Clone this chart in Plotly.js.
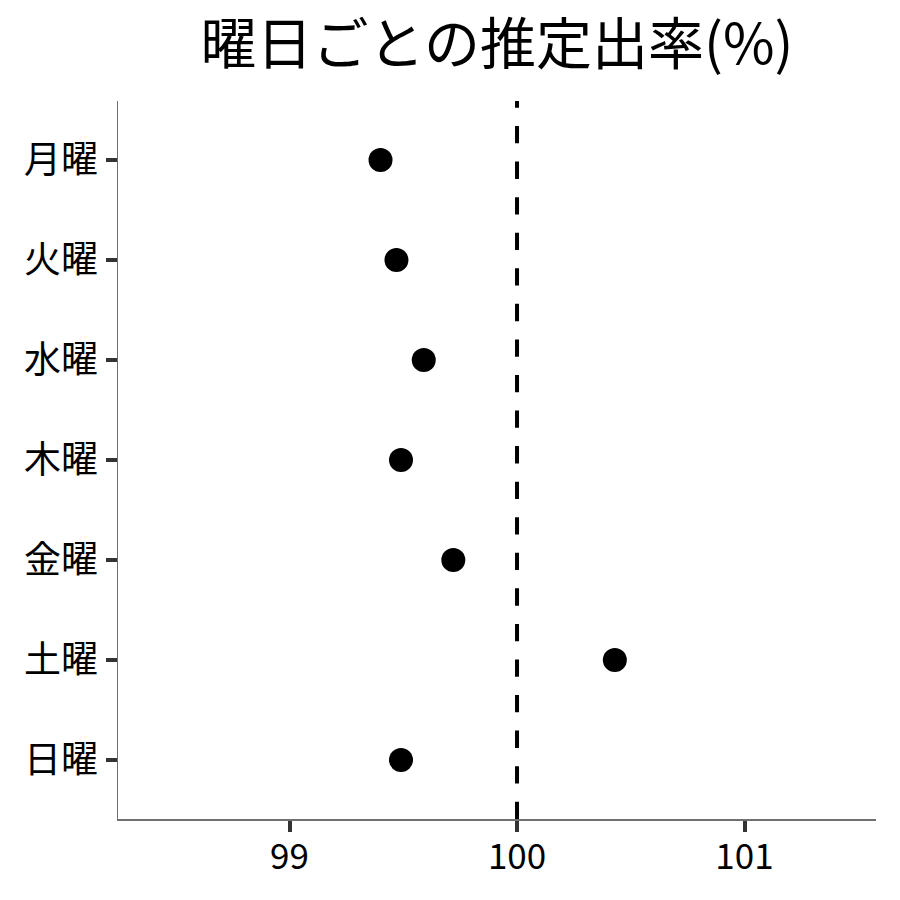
<!DOCTYPE html>
<html>
<head>
<meta charset="utf-8">
<script src="https://cdn.plot.ly/plotly-3.0.1.min.js"></script>
<style>html,body{margin:0;padding:0;background:#fff;}#chart{width:900px;height:900px;}</style>
</head>
<body>
<div id="chart"></div>
<script>
const days = ["月曜", "火曜", "水曜", "木曜", "金曜", "土曜", "日曜"];
const estimates = [99.40, 99.47, 99.59, 99.49, 99.72, 100.43, 99.49];
const xTickValues = [99, 100, 101];
const referenceValue = 100;
const chartTitle = "曜日ごとの推定出率(%)";

const FONT = '"Noto Sans CJK JP", "Noto Sans", sans-serif';

const trace = {
  type: "scatter",
  mode: "markers",
  x: estimates,
  y: days,
  marker: {color: "#000000", size: 24},
  hoverinfo: "x+y",
  showlegend: false
};

const layout = {
  width: 900,
  height: 900,
  margin: {l: 118, r: 24, t: 101, b: 81},
  paper_bgcolor: "#ffffff",
  plot_bgcolor: "#ffffff",
  font: {family: FONT, color: "#000000"},
  title: {
    text: chartTitle,
    font: {family: FONT, size: 56, color: "#000000"},
    x: 0.5, xref: "paper", xanchor: "center",
    y: 1 - 44 / 900, yref: "container", yanchor: "middle"
  },
  xaxis: {
    range: [98.246, 101.578],
    tickmode: "array",
    tickvals: xTickValues,
    ticktext: xTickValues.map(String),
    showgrid: false,
    zeroline: false,
    showline: true,
    linecolor: "#707070",
    linewidth: 1.5,
    ticks: "outside",
    ticklen: 11,
    tickwidth: 4,
    tickcolor: "#333333",
    ticklabelstandoff: -5,
    tickfont: {family: FONT, size: 35, color: "#000000"}
  },
  yaxis: {
    type: "category",
    categoryorder: "array",
    categoryarray: days,
    range: [6.59, -0.59],
    showgrid: false,
    zeroline: false,
    showline: true,
    linecolor: "#707070",
    linewidth: 1.5,
    ticks: "outside",
    ticklen: 11,
    tickwidth: 4,
    tickcolor: "#333333",
    tickfont: {family: FONT, size: 37, color: "#000000"}
  },
  shapes: [{
    type: "line",
    xref: "x", yref: "paper",
    x0: referenceValue, x1: referenceValue,
    y0: 0, y1: 1,
    line: {color: "#000000", width: 4, dash: "17.3px,18.26px"},
    layer: "below"
  }]
};

Plotly.newPlot("chart", [trace], layout, {displayModeBar: false, staticPlot: true});
</script>
</body>
</html>
